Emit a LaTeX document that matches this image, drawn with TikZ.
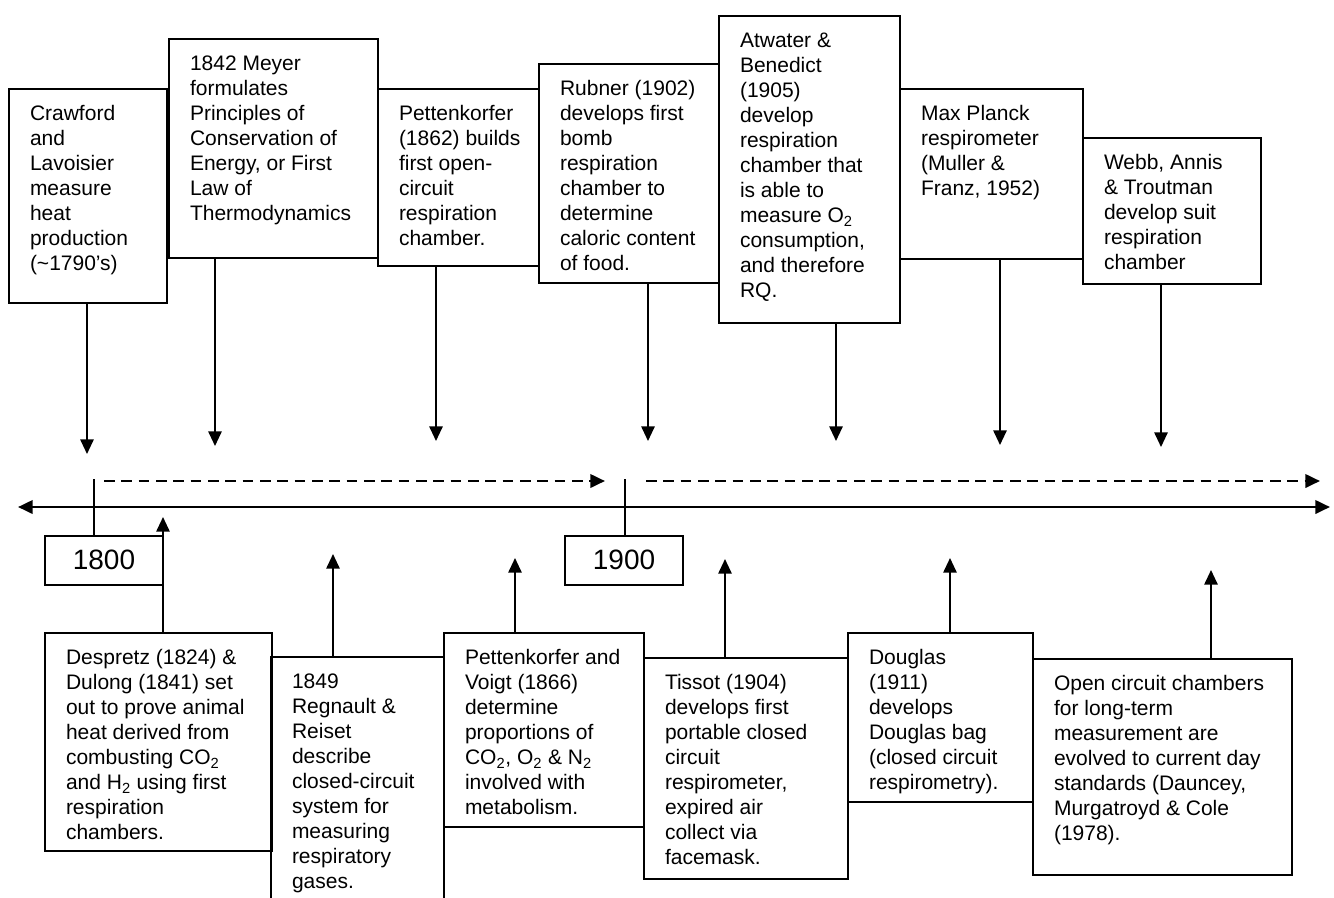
\documentclass[tikz,border=0pt]{standalone}
\usepackage{fontspec}
\setmainfont{Liberation Sans}
\usetikzlibrary{arrows.meta}
\newlength\px
\setlength\px{0.75pt}
% text of one event box: width, height, lines
\newcommand{\evtext}[3]{\parbox[t][#2\px][t]{#1\px}{\raggedright\leftskip=21\px
  \fontsize{15.75}{18.75}\selectfont\vspace*{14\px}\strut#3}}
\begin{document}
\begin{tikzpicture}[x=0.75pt,y=-0.75pt,>={Triangle[length=11pt,width=10pt]},
  evbox/.style={draw,line width=1.5pt,inner sep=0pt,anchor=north west},
  yearbox/.style={draw,line width=1.5pt,inner sep=0pt,minimum width=118\px,minimum height=49\px,font=\fontsize{21}{24}\selectfont},
  link/.style={->,line width=1.4pt}]
\clip (0,0) rectangle (1334,897);
% events above the time line
\node[evbox] (craw) at (8,88) {\evtext{158}{214}{Crawford\\and\\Lavoisier\\measure\\heat\\production\\(\textasciitilde1790's)}};
\node[evbox] (meyer) at (168,38) {\evtext{209}{219}{1842 Meyer\\formulates\\Principles of\\Conservation of\\Energy, or First\\Law of\\Thermodynamics}};
\node[evbox] (pett) at (377,88) {\evtext{161}{177}{Pettenkorfer\\(1862) builds\\first open-\\circuit\\respiration\\chamber.}};
\node[evbox] (rubner) at (538,63) {\evtext{180}{219}{Rubner (1902)\\develops first\\bomb\\respiration\\chamber to\\determine\\caloric content\\of food.}};
\node[evbox] (atwater) at (718,15) {\evtext{181}{307}{Atwater \&\\Benedict\\(1905)\\develop\\respiration\\chamber that\\is able to\\measure O\textsubscript{2}\\consumption,\\and therefore\\RQ.}};
\node[evbox] (planck) at (899,88) {\evtext{183}{170}{Max Planck\\respirometer\\(Muller \&\\Franz, 1952)}};
\node[evbox] (webb) at (1082,137) {\evtext{178}{146}{Webb, Annis\\\& Troutman\\develop suit\\respiration\\chamber}};
% events below the time line
\node[evbox] (desp) at (44,632) {\evtext{227}{218}{Despretz (1824) \&\\Dulong (1841) set\\out to prove animal\\heat derived from\\combusting CO\textsubscript{2}\\and H\textsubscript{2} using first\\respiration\\chambers.}};
\node[evbox] (regn) at (270,656) {\evtext{173}{260}{1849\\Regnault \&\\Reiset\\describe\\closed-circuit\\system for\\measuring\\respiratory\\gases.}};
\node[evbox] (voigt) at (443,632) {\evtext{200}{194}{Pettenkorfer and\\Voigt (1866)\\determine\\proportions of\\CO\textsubscript{2}, O\textsubscript{2} \& N\textsubscript{2}\\involved with\\metabolism.}};
\node[evbox] (tissot) at (643,657) {\evtext{204}{221}{Tissot (1904)\\develops first\\portable closed\\circuit\\respirometer,\\expired air\\collect via\\facemask.}};
\node[evbox] (douglas) at (847,632) {\evtext{185}{169}{Douglas\\(1911)\\develops\\Douglas bag\\(closed circuit\\respirometry).}};
\node[evbox] (open) at (1032,658) {\evtext{259}{216}{Open circuit chambers\\for long-term\\measurement are\\evolved to current day\\standards (Dauncey,\\Murgatroyd \& Cole\\(1978).}};
% time line
\coordinate (tl-l) at (18,507);
\coordinate (tl-r) at (1330,507);
\draw[<->,line width=2pt] (tl-l) -- (tl-r);
\node[yearbox] (y1800) at (104,560) {1800};
\node[yearbox] (y1900) at (624,560) {1900};
\coordinate (t1800) at (94,479);
\coordinate (t1900) at (625,479);
\draw[line width=1.2pt] (t1800) -- (t1800 |- y1800.north);
\draw[line width=1.2pt] (t1900) -- (t1900 |- y1900.north);
\coordinate (d1a) at (104,481); \coordinate (d1b) at (605,481);
\coordinate (d2a) at (646,481); \coordinate (d2b) at (1320,481);
\draw[->,line width=2pt,dash pattern=on 8pt off 5pt] (d1a) -- (d1b);
\draw[->,line width=2pt,dash pattern=on 8pt off 5pt] (d2a) -- (d2b);
% arrows down to the time line
\foreach \n/\x/\y in {craw/87/454,meyer/215/446,pett/436/441,rubner/648/441,atwater/836/441,planck/1000/445,webb/1161/447}{
  \coordinate (\n-tip) at (\x,\y);
  \draw[link] (\n-tip |- \n.south) -- (\n-tip);}
% arrows up to the time line
\foreach \n/\x/\y in {desp/163/517,regn/333/554,voigt/515/558,tissot/725/559,douglas/950/558,open/1211/570}{
  \coordinate (\n-tip) at (\x,\y);
  \draw[link] (\n-tip |- \n.north) -- (\n-tip);}
\end{tikzpicture}
\end{document}
